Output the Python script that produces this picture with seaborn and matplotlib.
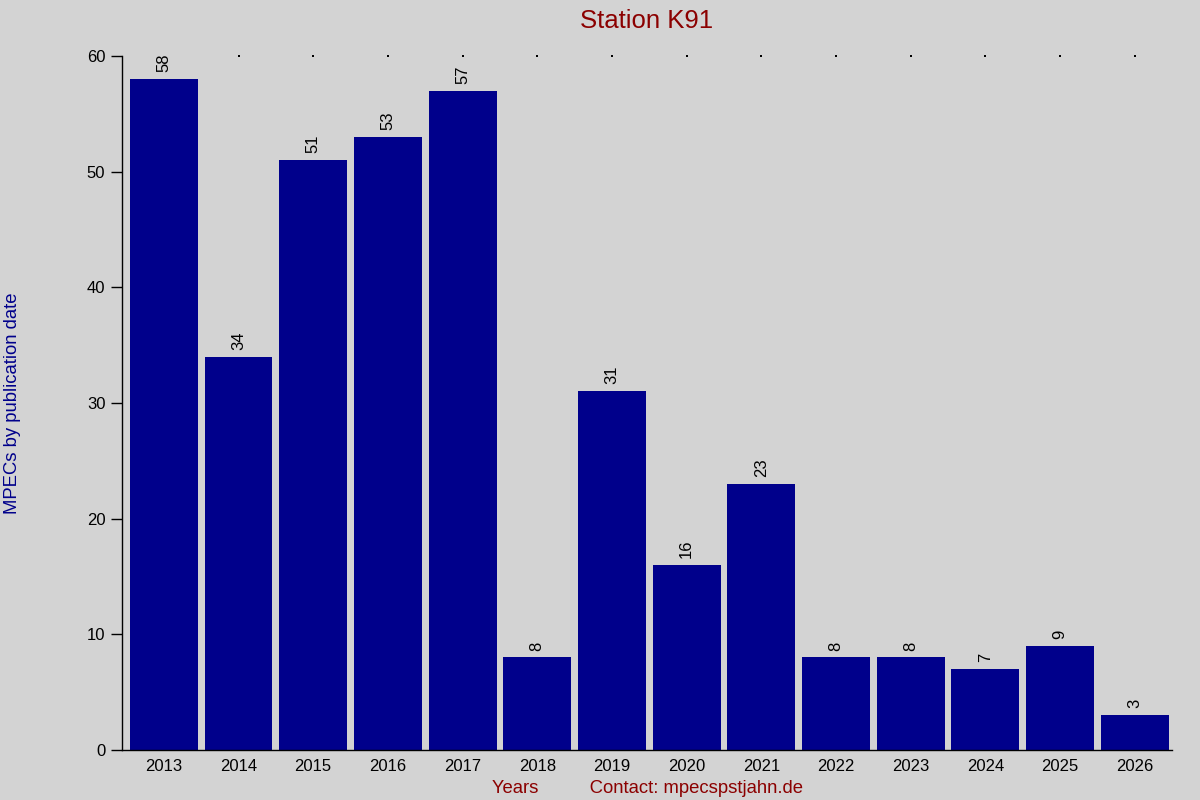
import matplotlib
matplotlib.use("Agg")
import matplotlib.pyplot as plt
import seaborn as sns
import pandas as pd

years = ["2013", "2014", "2015", "2016", "2017", "2018", "2019",
         "2020", "2021", "2022", "2023", "2024", "2025", "2026"]
counts = [58, 34, 51, 53, 57, 8, 31, 16, 23, 8, 8, 7, 9, 3]

title = "Station K91"
ylabel = "MPECs by publication date"
xlabel = "Years" + " " * 10 + "Contact: mpecspstjahn.de"

sns.set_theme(style="white")
plt.rcParams['font.family'] = ['Liberation Sans', 'DejaVu Sans']

bg = "#d3d3d3"
bar_color = "#00008b"
red = "#8b0000"

df = pd.DataFrame({"year": years, "count": counts})

fig = plt.figure(figsize=(12, 8), dpi=100, facecolor=bg)
ax = fig.add_axes([122/1200, 1 - 750/800, (1172 - 122)/1200, (750 - 56)/800])
ax.set_facecolor(bg)

sns.barplot(data=df, x="year", y="count", color=bar_color, saturation=1,
            width=0.91, ax=ax, edgecolor="none")

ax.set_ylim(0, 60)
ax.set_xlim(-0.56, len(years) - 0.5)
ax.set_yticks([0, 10, 20, 30, 40, 50, 60])

ax.scatter(range(len(years)), [60] * len(years), s=1.5, color="black",
           marker="s", clip_on=False, zorder=5, linewidths=0)

for i, v in enumerate(counts):
    ax.annotate(str(v), (i, v), xytext=(0, 5), textcoords="offset points",
                rotation=90, ha="center", va="bottom", fontsize=12,
                color="black", annotation_clip=False, zorder=6,
                bbox=dict(boxstyle="square,pad=0.05", fc=bg, ec="none"))

for s in ["top", "right"]:
    ax.spines[s].set_visible(False)
ax.spines["left"].set_color("black")
ax.spines["bottom"].set_color("black")
ax.spines["left"].set_linewidth(1)
ax.spines["bottom"].set_linewidth(1)

ax.tick_params(axis="y", which="both", left=True, length=8, width=1,
               color="black", labelsize=12, pad=4, labelcolor="black")
ax.tick_params(axis="x", which="both", bottom=False, length=0,
               labelsize=12, pad=6.5, labelcolor="black")

ax.set_xlabel(xlabel, color=red, fontsize=13.3, labelpad=4)
ax.set_ylabel(ylabel, color=bar_color, fontsize=13.3, labelpad=47)
ax.set_title(title, color=red, fontsize=18.5, pad=20)

fig.savefig("out.png", dpi=100, facecolor=bg)
